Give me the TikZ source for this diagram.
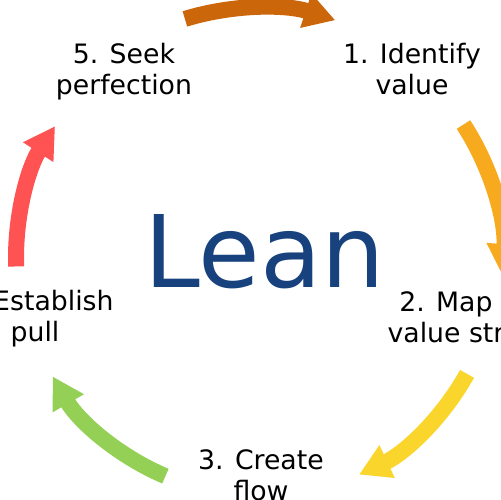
\documentclass[tikz,border=0pt]{standalone}
\usepackage{fontspec}
\setmainfont{DejaVu Sans}
\usepackage{xcolor}
\usepackage{tikz}
\usetikzlibrary{arrows.meta}

\definecolor{leanblue}{RGB}{24,66,126}
\definecolor{arrowrust}{RGB}{204,102,10}
\definecolor{arrowamber}{RGB}{247,170,30}
\definecolor{arrowyellow}{RGB}{250,214,45}
\definecolor{arrowgreen}{RGB}{148,208,86}
\definecolor{arrowred}{RGB}{255,82,82}

\begin{document}
\begin{tikzpicture}[
    x=0.02cm, y=0.02cm,
    steplabel/.style={align=center, anchor=base, inner sep=0pt, font=\fontsize{15.2}{18.2}\selectfont},
    title/.style={anchor=base, inner sep=0pt, text=leanblue, font=\fontsize{57}{60}\selectfont},
    cyclearrow/.style={line width=0.32cm, -{Triangle[length=0.62cm, width=0.68cm]}}
]
\path[use as bounding box, fill=white] (0,0) rectangle (500,500);

% Centre
\coordinate (hub) at (258,242);
\node[title] (lean) at (265,212) {Lean};

% Steps
\node[steplabel] (identify) at (412,405) {1. Identify\\value};
\node[steplabel] (map) at (446,157) {2. Map\\value str};
\node[steplabel] (create) at (261,-1) {3. Create\\flow};
\node[steplabel] (establish) at (35,158) {4. Establish\\pull};
\node[steplabel] (seek) at (124,405) {5. Seek\\perfection};

% Arrows
\draw[cyclearrow, arrowrust] ([shift={(107:250)}]hub) arc[start angle=107, end angle=72, radius=250];
\draw[cyclearrow, arrowamber] ([shift={(33:245)}]hub) arc[start angle=33, end angle=-4, radius=245];
\draw[cyclearrow, arrowyellow] ([shift={(-29:239)}]hub) arc[start angle=-29, end angle=-65, radius=239];
\draw[cyclearrow, arrowgreen] ([shift={(247:237)}]hub) arc[start angle=247, end angle=210, radius=237];
\draw[cyclearrow, arrowred] ([shift={(182:242)}]hub) arc[start angle=182, end angle=147, radius=242];

\end{tikzpicture}
\end{document}
